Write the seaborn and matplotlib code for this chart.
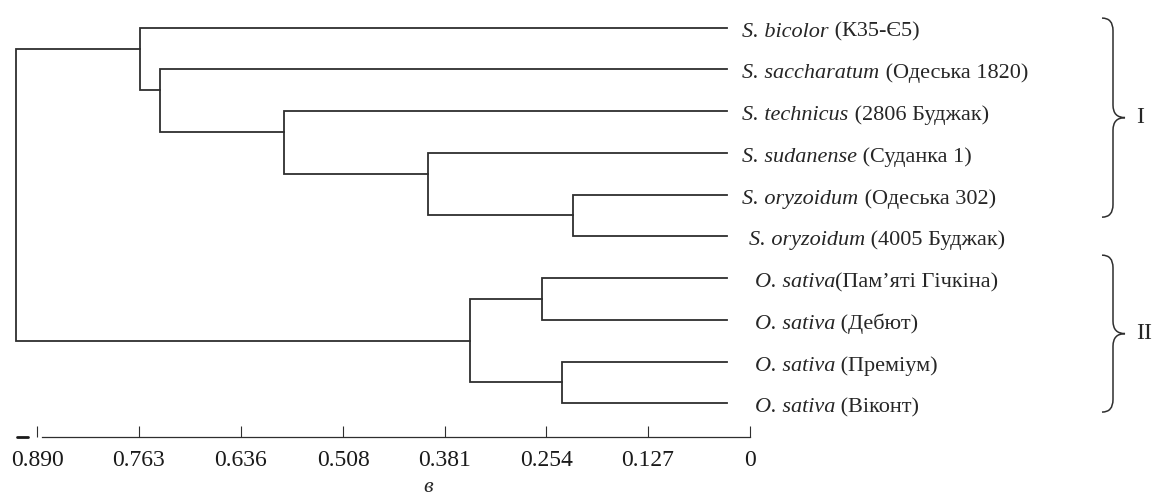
# Dendrogram of Sorghum / Oryza accessions (UPGMA-style tree with distance scale)
import matplotlib
matplotlib.use("Agg")
import matplotlib.pyplot as plt
from matplotlib.path import Path
from matplotlib.patches import PathPatch
from matplotlib import transforms
import pandas as pd
import seaborn as sns

# ========= Data =========
species = ["S. bicolor", "S. saccharatum", "S. technicus", "S. sudanense",
           "S. oryzoidum", "S. oryzoidum", "O. sativa", "O. sativa",
           "O. sativa", "O. sativa"]
cultivars = [" (К35-Є5)", " (Одеська 1820)", " (2806 Буджак)", " (Суданка 1)",
             " (Одеська 302)", " (4005 Буджак)", "(Пам’яті Гічкіна)", " (Дебют)",
             " (Преміум)", " (Віконт)"]

# merges: leaves are 0..9, every merge creates node 10, 11, ...
merge_a = [4, 3, 2, 1, 0, 6, 8, 15, 14]
merge_b = [5, 10, 11, 12, 13, 7, 9, 16, 17]
merge_height = [0.193, 0.374, 0.554, 0.709, 0.735, 0.231, 0.206, 0.322, 0.890]

tick_values = [0.890, 0.763, 0.636, 0.508, 0.381, 0.254, 0.127, 0]
tick_labels = ["0.890", "0.763", "0.636", "0.508", "0.381", "0.254", "0.127", "0"]

cluster_names = ["I", "II"]
cluster_span = [(-0.23, 4.54), (5.45, 9.21)]

# ========= Build the tree segments =========
n = len(species)
node_h = [0.0] * n
node_y = [float(i) for i in range(n)]
node_lo = list(range(n))
node_hi = list(range(n))
rows = []
for k, (a, b, h) in enumerate(zip(merge_a, merge_b, merge_height)):
    rows += [(k, node_h[a], node_y[a]), (k, h, node_y[a]),
             (k, h, node_y[b]), (k, node_h[b], node_y[b])]
    node_h.append(h)
    node_y.append((node_hi[a] + node_lo[b]) / 2)
    node_lo.append(min(node_lo[a], node_lo[b]))
    node_hi.append(max(node_hi[a], node_hi[b]))
links = pd.DataFrame(rows, columns=["link", "height", "row"])

# ========= Plot =========
sns.set_style("white")
plt.rcParams["font.family"] = ["Liberation Serif", "DejaVu Serif"]

W, H = 1158, 504
fig = plt.figure(figsize=(W / 100, H / 100), dpi=100)
line_col = "#2e2e2e"

ax = fig.add_axes([0, 1 - 424.2 / H, 727 / W, 417.4 / H])
sns.lineplot(data=links, x="height", y="row", units="link", estimator=None,
             sort=False, color=line_col, linewidth=1.3, legend=False, ax=ax)
for ln in ax.lines:
    ln.set_clip_on(False)
    ln.set_solid_joinstyle("miter")
    ln.set_solid_capstyle("projecting")
ax.set_xlim(0.9096, 0)
ax.set_ylim(n - 0.5, -0.5)
ax.set_axis_off()

# leaf labels: italic species name followed by upright cultivar
label_pad = [11, 11, 11, 11, 11, 16, 20, 20, 20, 20]
fs = 16
for i in range(n):
    t = ax.annotate(species[i], xy=(0, i), xytext=(label_pad[i], -3.3),
                    textcoords="offset points", ha="left", va="center",
                    style="italic", fontsize=fs, annotation_clip=False)
    ax.annotate(cultivars[i], xy=(1, 0), xycoords=t, ha="left", va="bottom",
                fontsize=fs, annotation_clip=False)

# cluster braces
blend = transforms.blended_transform_factory(fig.transFigure, ax.transData)
x_end, x_bar, x_tip = 1102 / W, 1113 / W, 1125 / W
c = 0.3
for name, (y0, y1) in zip(cluster_names, cluster_span):
    ym = (y0 + y1) / 2
    verts = [(x_end, y0), (x_bar, y0), (x_bar, y0 + c),
             (x_bar, ym - c),
             (x_bar, ym), (x_tip, ym),
             (x_bar, ym), (x_bar, ym + c),
             (x_bar, y1 - c),
             (x_bar, y1), (x_end, y1)]
    codes = [Path.MOVETO, Path.CURVE3, Path.CURVE3, Path.LINETO,
             Path.CURVE3, Path.CURVE3, Path.CURVE3, Path.CURVE3,
             Path.LINETO, Path.CURVE3, Path.CURVE3]
    ax.add_patch(PathPatch(Path(verts, codes), transform=blend, fill=False,
                           edgecolor=line_col, linewidth=1.1, clip_on=False))
    ax.text(1136 / W, ym, name, transform=blend, ha="left", va="center",
            fontsize=17, clip_on=False)

# distance scale
sx = fig.add_axes([0, 1 - 437.3 / H, 749.6 / W, 0.02])
sx.set_xlim(0.9366, 0)
sx.set_yticks([])
for s in ["top", "left", "right"]:
    sx.spines[s].set_visible(False)
sx.spines["bottom"].set_bounds(0.884, 0)
sx.spines["bottom"].set_color(line_col)
sx.spines["bottom"].set_linewidth(0.9)
sx.set_xticks(tick_values)
sx.set_xticklabels(tick_labels)
sx.tick_params(axis="x", bottom=True, direction="in", length=8, width=0.8,
               colors=line_col, labelcolor="#1a1a1a", labelsize=17, pad=9)
sx.patch.set_visible(False)
sx.plot([0.915, 0.902], [0, 0], color="#1a1a1a", linewidth=2,
        transform=transforms.blended_transform_factory(sx.transData, sx.transAxes),
        clip_on=False)

fig.text(428 / W, 1 - 488 / H, "в", style="italic", fontsize=16,
         ha="center", va="center")

fig.savefig("out.png", dpi=100)
